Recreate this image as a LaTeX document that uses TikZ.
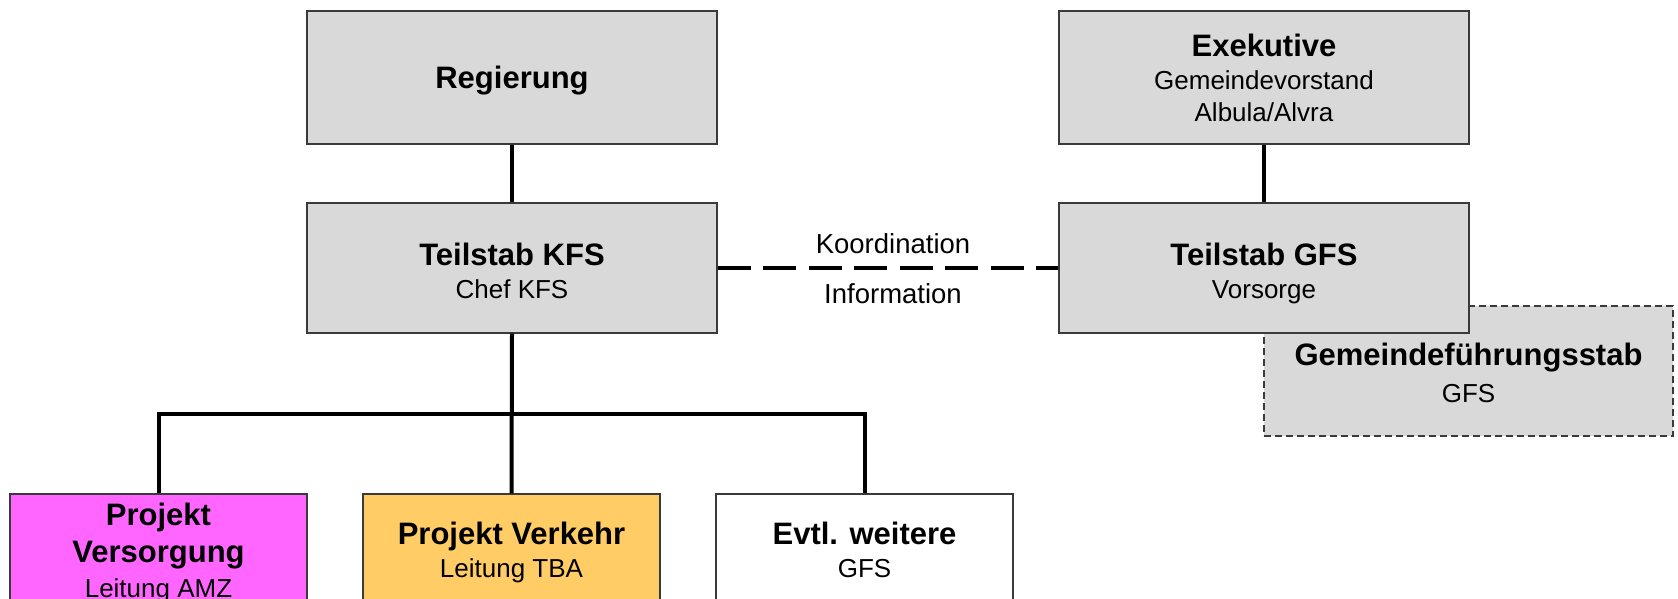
\documentclass[tikz,border=0pt]{standalone}
\usepackage{fontspec}
\setmainfont{Liberation Sans}
\definecolor{boxgray}{HTML}{D9D9D9}
\definecolor{magentabox}{HTML}{FF66FF}
\definecolor{orangebox}{HTML}{FFCC66}
\definecolor{edgegray}{HTML}{3A3A3A}
\begin{document}
\begin{tikzpicture}[x=1pt,y=-1pt,
  orgbox/.style={draw=edgegray, line width=1.3pt, fill=boxgray, rectangle,
    minimum width=410pt, minimum height=132pt, inner sep=0pt},
  lowbox/.style={orgbox, minimum width=297pt, minimum height=116pt},
  gfsbox/.style={orgbox, dash pattern=on 7pt off 4pt, line width=1.1pt},
  ttl/.style={anchor=base, inner sep=0pt, font=\fontsize{31}{34}\selectfont\bfseries},
  sbt/.style={anchor=base, inner sep=0pt, font=\fontsize{26}{32}\selectfont},
  conn/.style={line width=4pt, black},
  dashconn/.style={line width=4pt, black, dash pattern=on 33pt off 12.5pt},
  lbl/.style={anchor=base, inner sep=0pt, font=\fontsize{27.5}{32}\selectfont}
]
\useasboundingbox (0,0) rectangle (1678,599);
\clip (0,0) rectangle (1678,599);

% boxes
\node[orgbox, minimum height=133pt] (reg) at (512,77.5) {};
\node[orgbox, minimum height=130pt] (kfs) at (512,268) {};
\node[orgbox, minimum height=133pt] (exe) at (1264,77.5) {};
\node[gfsbox, minimum width=409pt, minimum height=130pt] (gfs) at (1468.5,371) {};
\node[orgbox, minimum height=130pt] (tgfs) at (1264,268) {};
\node[lowbox, fill=magentabox] (vers) at (158.5,552) {};
\node[lowbox, fill=orangebox] (verk) at (511.5,552) {};
\node[lowbox, fill=white] (evtl) at (864.5,552) {};

% texts
\node[ttl] (regT) at (512,89) {Regierung};
\node[ttl] (kfsT) at (512,265) {Teilstab KFS};
\node[sbt] (kfsS) at (512,298) {Chef KFS};
\node[ttl] (exeT) at (1264,57) {Exekutive};
\node[sbt] (exeS) at (1264,90) {Gemeindevorstand};
\node[sbt] (exeS2) at (1264,122) {Albula/Alvra};
\node[ttl] (tgfsT) at (1264,265) {Teilstab GFS};
\node[sbt] (tgfsS) at (1264,298) {Vorsorge};
\node[ttl] (gfsT) at (1468.5,365) {Gemeindeführungsstab};
\node[sbt] (gfsS) at (1468.5,402) {GFS};
\node[ttl] (versT) at (158.5,525) {Projekt};
\node[ttl] (versT2) at (158.5,562) {Versorgung};
\node[sbt] (versS) at (158.5,597) {Leitung AMZ};
\node[ttl] (verkT) at (511.5,544) {Projekt Verkehr};
\node[sbt] (verkS) at (511.5,577) {Leitung TBA};
\node[ttl] (evtlT) at (864.5,544) {Evtl. weitere};
\node[sbt] (evtlS) at (864.5,577) {GFS};

% connectors
\draw[conn] (reg.south) -- (kfs.north);
\draw[conn] (exe.south) -- (tgfs.north);
\coordinate (bus) at (511.5,414);
\draw[conn] (kfs.south) -- (verk.north);
\draw[conn] (vers.north) |- (bus) -| (evtl.north);
\draw[dashconn] (kfs.east) -- (tgfs.west);
\node[lbl] (koord) at (893,253) {Koordination};
\node[lbl] (info) at (893,303) {Information};
\end{tikzpicture}
\end{document}
